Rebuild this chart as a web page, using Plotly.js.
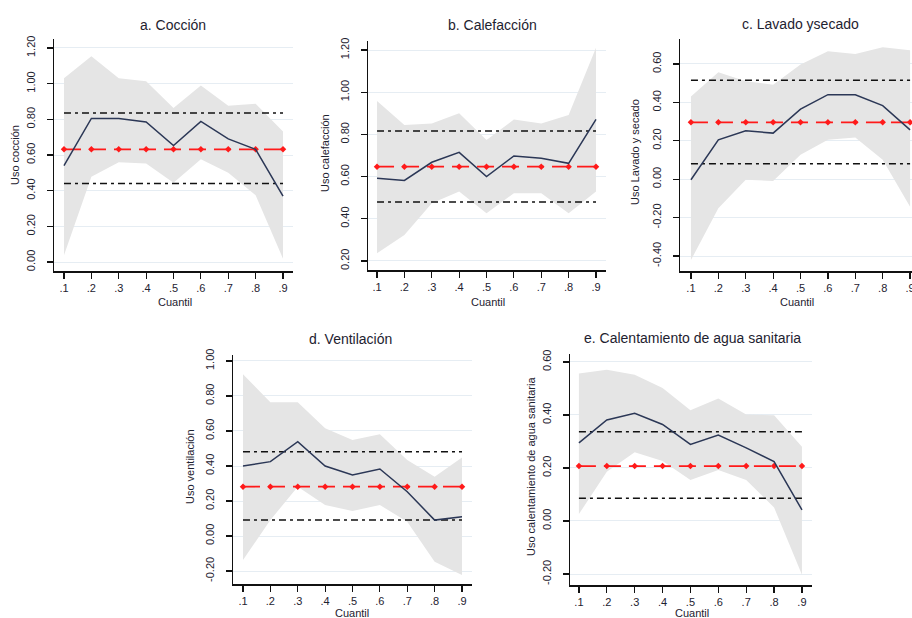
<!DOCTYPE html>
<html>
<head>
<meta charset="utf-8">
<script src="https://cdn.plot.ly/plotly-3.0.1.min.js"></script>
<style>html,body{margin:0;padding:0;background:#fff;}#chart{width:912px;height:618px;}</style>
</head>
<body>
<div id="chart"></div>
<script>
// ---- data ----
const quantiles = [0.1, 0.2, 0.3, 0.4, 0.5, 0.6, 0.7, 0.8, 0.9];
const xTickText = [".1", ".2", ".3", ".4", ".5", ".6", ".7", ".8", ".9"];

const titles = ["a. Cocción", "b. Calefacción", "c. Lavado ysecado", "d. Ventilación", "e. Calentamiento de agua sanitaria"];
const yTitles = ["Uso cocción", "Uso calefacción", "Uso Lavado y secado", "Uso ventilación", "Uso calentamiento de agua sanitaria"];
const xTitle = "Cuantil";

// a. Cocción
const cocLine  = [0.54, 0.805, 0.805, 0.785, 0.653, 0.788, 0.69, 0.632, 0.37];
const cocUpper = [1.03, 1.154, 1.03, 1.013, 0.863, 0.989, 0.876, 0.887, 0.732];
const cocLower = [0.038, 0.478, 0.559, 0.553, 0.445, 0.576, 0.50, 0.375, 0.019];
const cocOls = 0.632, cocOlsHi = 0.835, cocOlsLo = 0.441;
const cocTicks = [0, 0.2, 0.4, 0.6, 0.8, 1.0, 1.2];
const cocTickText = ["0.00", "0.20", "0.40", "0.60", "0.80", "1.00", "1.20"];

// b. Calefacción
const calLine  = [0.592, 0.582, 0.668, 0.715, 0.60, 0.698, 0.687, 0.663, 0.871];
const calUpper = [0.958, 0.845, 0.852, 0.90, 0.773, 0.871, 0.852, 0.892, 1.211];
const calLower = [0.236, 0.323, 0.473, 0.529, 0.426, 0.521, 0.521, 0.426, 0.529];
const calOls = 0.647, calOlsHi = 0.816, calOlsLo = 0.48;
const calTicks = [0.2, 0.4, 0.6, 0.8, 1.0, 1.2];
const calTickText = ["0.20", "0.40", "0.60", "0.80", "1.00", "1.20"];

// c. Lavado y secado
const lavLine  = [-0.003, 0.205, 0.252, 0.24, 0.365, 0.44, 0.44, 0.383, 0.257];
const lavUpper = [0.431, 0.557, 0.51, 0.492, 0.597, 0.666, 0.652, 0.687, 0.671];
const lavLower = [-0.421, -0.151, -0.003, -0.009, 0.127, 0.205, 0.217, 0.101, -0.143];
const lavOls = 0.296, lavOlsHi = 0.515, lavOlsLo = 0.08;
const lavTicks = [-0.4, -0.2, 0, 0.2, 0.4, 0.6];
const lavTickText = ["-0.40", "-0.20", "0.00", "0.20", "0.40", "0.60"];

// d. Ventilación
const venLine  = [0.40, 0.425, 0.539, 0.40, 0.349, 0.383, 0.253, 0.091, 0.11];
const venUpper = [0.924, 0.764, 0.764, 0.615, 0.549, 0.581, 0.434, 0.339, 0.448];
const venLower = [-0.137, 0.091, 0.282, 0.177, 0.143, 0.177, 0.082, -0.147, -0.223];
const venOls = 0.282, venOlsHi = 0.482, venOlsLo = 0.091;
const venTicks = [-0.2, 0, 0.2, 0.4, 0.6, 0.8, 1.0];
const venTickText = ["-0.20", "0.00", "0.20", "0.40", "0.60", "0.80", "1.00"];

// e. Calentamiento de agua sanitaria
const aguLine  = [0.295, 0.381, 0.406, 0.364, 0.289, 0.324, 0.276, 0.224, 0.042];
const aguUpper = [0.556, 0.571, 0.552, 0.502, 0.418, 0.462, 0.402, 0.399, 0.28];
const aguLower = [0.026, 0.186, 0.259, 0.226, 0.155, 0.192, 0.155, 0.051, -0.203];
const aguOls = 0.207, aguOlsHi = 0.337, aguOlsLo = 0.086;
const aguTicks = [-0.2, 0, 0.2, 0.4, 0.6];
const aguTickText = ["-0.20", "0.00", "0.20", "0.40", "0.60"];

// ---- build ----
const W = 912, H = 618;
const FONT = "Liberation Sans, Arial, sans-serif";
const TXT = "#1e2230";

const panels = [
  {line: cocLine, up: cocUpper, lo: cocLower, ols: cocOls, hi: cocOlsHi, olo: cocOlsLo, ticks: cocTicks, tt: cocTickText,
   px: [54, 293], py: [39, 271], xr: [0.0635, 0.9365], yr: [-0.05, 1.25],
   title: [173, 25], ytit: [15, 155], xtit: [175, 302]},
  {line: calLine, up: calUpper, lo: calLower, ols: calOls, hi: calOlsHi, olo: calOlsLo, ticks: calTicks, tt: calTickText,
   px: [368, 606], py: [41, 270], xr: [0.067, 0.9365], yr: [0.157, 1.243],
   title: [492, 25], ytit: [325, 153], xtit: [488, 302]},
  {line: lavLine, up: lavUpper, lo: lavLower, ols: lavOls, hi: lavOlsHi, olo: lavOlsLo, ticks: lavTicks, tt: lavTickText,
   px: [680, 912], py: [39, 271], xr: [0.06, 0.907], yr: [-0.478, 0.73],
   title: [800, 24], ytit: [635, 152], xtit: [797, 302]},
  {line: venLine, up: venUpper, lo: venLower, ols: venOls, hi: venOlsHi, olo: venOlsLo, ticks: venTicks, tt: venTickText,
   px: [233, 472], py: [355, 584], xr: [0.0635, 0.9365], yr: [-0.274, 1.034],
   title: [350, 339], ytit: [190, 467], xtit: [352, 613]},
  {line: aguLine, up: aguUpper, lo: aguLower, ols: aguOls, hi: aguOlsHi, olo: aguOlsLo, ticks: aguTicks, tt: aguTickText,
   px: [570, 812], py: [354, 585], xr: [0.068, 0.936], yr: [-0.2415, 0.63],
   title: [692, 338], ytit: [531, 467], xtit: [692, 613]}
];

const traces = [];
const layout = {
  width: W, height: H,
  margin: {l: 0, r: 0, t: 0, b: 0},
  paper_bgcolor: "#ffffff", plot_bgcolor: "#ffffff",
  showlegend: false,
  font: {family: FONT, color: TXT, size: 11},
  annotations: []
};

panels.forEach((p, i) => {
  const n = i + 1;
  const xa = n === 1 ? "x" : "x" + n;
  const ya = n === 1 ? "y" : "y" + n;
  const xk = n === 1 ? "xaxis" : "xaxis" + n;
  const yk = n === 1 ? "yaxis" : "yaxis" + n;

  // confidence band
  traces.push({
    x: quantiles.concat(quantiles.slice().reverse()),
    y: p.up.concat(p.lo.slice().reverse()),
    xaxis: xa, yaxis: ya, type: "scatter", mode: "lines",
    fill: "toself", fillcolor: "#e5e5e5", line: {width: 0}, hoverinfo: "skip"
  });
  // OLS CI lines
  [p.hi, p.olo].forEach(v => {
    traces.push({
      x: quantiles, y: quantiles.map(() => v),
      xaxis: xa, yaxis: ya, type: "scatter", mode: "lines",
      line: {color: "#111111", width: 1.5, dash: "7px,4px,3px,4px"}
    });
  });
  // OLS estimate
  traces.push({
    x: quantiles, y: quantiles.map(() => p.ols),
    xaxis: xa, yaxis: ya, type: "scatter", mode: "lines+markers",
    line: {color: "#ff1a1a", width: 1.8, dash: "17px,8px"},
    marker: {symbol: "diamond", size: 5, color: "#ff1a1a"}
  });
  // quantile coefficients
  traces.push({
    x: quantiles, y: p.line,
    xaxis: xa, yaxis: ya, type: "scatter", mode: "lines",
    line: {color: "#2b3756", width: 1.5}
  });

  layout[xk] = {
    domain: [p.px[0] / W, p.px[1] / W], anchor: ya, range: p.xr,
    tickvals: quantiles, ticktext: xTickText,
    showgrid: false, zeroline: false, showline: true, linecolor: "#111", linewidth: 1.5,
    ticks: "outside", ticklen: 6, tickwidth: 1.2, tickcolor: "#111",
    ticklabeloverflow: "allow",
    tickfont: {family: FONT, size: 11, color: TXT}, fixedrange: true
  };
  layout[yk] = {
    domain: [1 - p.py[1] / H, 1 - p.py[0] / H], anchor: xa, range: p.yr,
    tickvals: p.ticks, ticktext: p.tt, tickangle: -90,
    showgrid: true, gridcolor: "#e6edf3", gridwidth: 1, zeroline: false,
    showline: true, linecolor: "#111", linewidth: 1.5,
    ticks: "outside", ticklen: 6, tickwidth: 1.2, tickcolor: "#111",
    ticklabelstandoff: 7,
    tickfont: {family: FONT, size: 11, color: TXT}, fixedrange: true
  };

  layout.annotations.push({
    text: titles[i], xref: "paper", yref: "paper",
    x: p.title[0] / W, y: 1 - p.title[1] / H, xanchor: "center", yanchor: "middle",
    showarrow: false, font: {family: FONT, size: 14, color: TXT}
  });
  layout.annotations.push({
    text: yTitles[i], xref: "paper", yref: "paper", textangle: -90,
    x: p.ytit[0] / W, y: 1 - p.ytit[1] / H, xanchor: "center", yanchor: "middle",
    showarrow: false, font: {family: FONT, size: 11, color: TXT}
  });
  layout.annotations.push({
    text: xTitle, xref: "paper", yref: "paper",
    x: p.xtit[0] / W, y: 1 - p.xtit[1] / H, xanchor: "center", yanchor: "middle",
    showarrow: false, font: {family: FONT, size: 11, color: TXT}
  });
});

Plotly.newPlot("chart", traces, layout, {displayModeBar: false, staticPlot: true});
</script>
</body>
</html>
